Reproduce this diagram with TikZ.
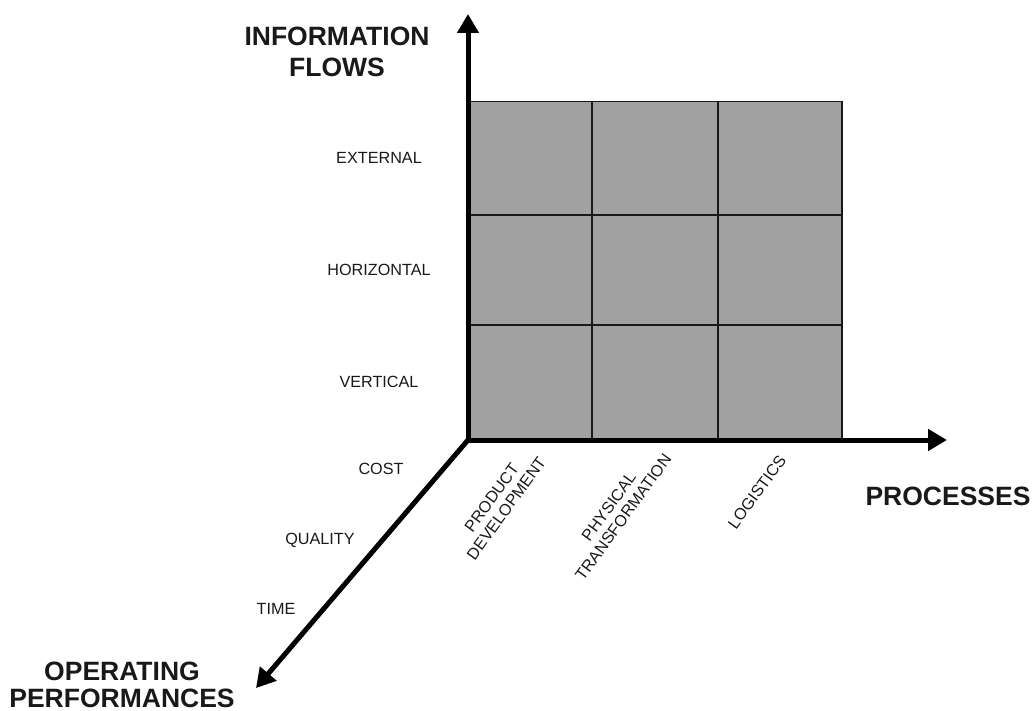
\documentclass[tikz,border=0pt]{standalone}
\usepackage{fontspec}
\setmainfont{Liberation Sans}
\usetikzlibrary{arrows.meta}
\definecolor{cellgray}{RGB}{161,161,161}
\definecolor{inkc}{RGB}{25,25,25}
\begin{document}
\begin{tikzpicture}[x=1pt,y=-1pt,
  axis/.style={line width=5pt,draw=black,-{Triangle[length=19pt,width=21pt]}},
  gridline/.style={draw=inkc,line width=1.3pt},
  big/.style={font=\bfseries\fontsize{26.5}{31}\selectfont,align=center,text=inkc,inner sep=0pt},
  small/.style={font=\fontsize{16.2}{18}\selectfont,text=inkc,inner sep=0pt},
  rot/.style={small,align=center,rotate=54}]
\useasboundingbox (0,0) rectangle (1035,711);
% grid
\coordinate (g00) at (468,101.5);
\coordinate (g11) at (842,440);
\fill[cellgray] (g00) rectangle (g11);
\draw[gridline] (468,101.5) -- (842,101.5) -- (842,440);
\draw[gridline] (468,215) -- (842,215);
\draw[gridline] (468,325) -- (842,325);
\draw[gridline] (592,101.5) -- (592,440);
\draw[gridline] (718,101.5) -- (718,440);
% axes
\coordinate (O) at (468,440);
\coordinate (Ov) at (468,442.5);
\coordinate (Oh) at (465.5,440);
\coordinate (ytip) at (468,14);
\coordinate (xtip) at (947,440);
\coordinate (ztip) at (256,688);
\draw[axis] (Ov) -- (ytip);
\draw[axis] (Oh) -- (xtip);
\draw[axis] (O) -- (ztip);
% axis titles
\node[big] (tinfo) at (337,51.5) {INFORMATION\\FLOWS};
\node[big] (tproc) at (948,496.5) {PROCESSES};
\node[big,font=\bfseries\fontsize{26.5}{27}\selectfont] (toper) at (122,684.5) {OPERATING\\PERFORMANCES};
% information flow labels
\node[small] (lext) at (379,158) {EXTERNAL};
\node[small] (lhor) at (379,270) {HORIZONTAL};
\node[small] (lver) at (379,382) {VERTICAL};
% performance labels
\node[small] (lcost) at (381,469) {COST};
\node[small] (lqual) at (320,540) {QUALITY};
\node[small] (ltime) at (276,609) {TIME};
% process labels
\node[rot] (lpd) at (499,503) {PRODUCT\\DEVELOPMENT};
\node[rot] (lpt) at (616,512) {PHYSICAL\\TRANSFORMATION};
\node[rot] (llog) at (757,492) {LOGISTICS};
\end{tikzpicture}
\end{document}
